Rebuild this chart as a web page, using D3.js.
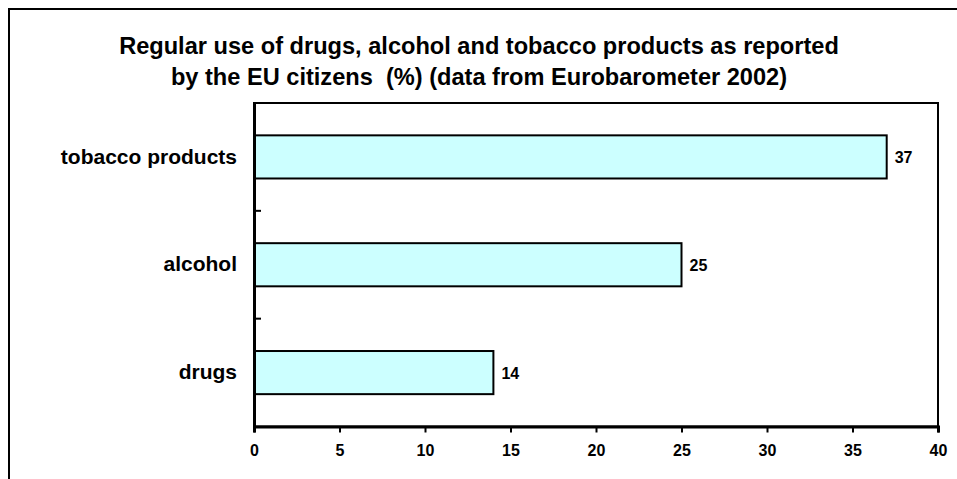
<!DOCTYPE html>
<html><head><meta charset="utf-8">
<script src="https://cdn.jsdelivr.net/npm/d3@7"></script>
<style>body{margin:0;background:#fff;} svg{display:block;}</style>
</head><body>
<svg id="c" width="957" height="479"></svg>
<script>
const categories = ["tobacco products", "alcohol", "drugs"];
const values = [37, 25, 14];
const xTicks = [0, 5, 10, 15, 20, 25, 30, 35, 40];
const titleLines = ["Regular use of drugs, alcohol and tobacco products as reported",
                    "by the EU citizens  (%) (data from Eurobarometer 2002)"];

const svg = d3.select("#c");
const font = "Liberation Sans, Arial, sans-serif";
svg.append("rect").attr("x", 9).attr("y", 9).attr("width", 957).attr("height", 479)
  .attr("fill", "#fff").attr("stroke", "#000").attr("stroke-width", 2);

const L = 254, R = 938, T = 103, B = 426.5;
const x = d3.scaleLinear().domain([0, 40]).range([L, R]);
const y = d3.scaleBand().domain(categories).range([T, B]).paddingInner(0.6).paddingOuter(0.3);

svg.append("g").selectAll("text").data(titleLines).join("text")
  .attr("x", 479).attr("y", (d, i) => 54 + i * 31)
  .attr("text-anchor", "middle").attr("font-family", font).attr("font-weight", "bold")
  .attr("font-size", 23.6).style("white-space", "pre").text(d => d);

// plot frame
svg.append("rect").attr("x", L).attr("y", T).attr("width", R - L).attr("height", B - T)
  .attr("fill", "none").attr("stroke", "#000").attr("stroke-width", 2);

// bars
svg.append("g").selectAll("rect").data(values).join("rect")
  .attr("x", x(0)).attr("y", (d, i) => y(categories[i]))
  .attr("width", d => x(d) - x(0)).attr("height", y.bandwidth())
  .attr("fill", "#CCFFFF").attr("stroke", "#000").attr("stroke-width", 2);

// value labels
svg.append("g").selectAll("text").data(values).join("text")
  .attr("x", d => x(d) + 8).attr("y", (d, i) => y(categories[i]) + y.bandwidth() / 2 + 6)
  .attr("font-family", font).attr("font-weight", "bold").attr("font-size", 16)
  .text(d => d);

// x axis
const xa = svg.append("g").attr("transform", `translate(0,${B})`)
  .call(d3.axisBottom(x).tickValues(xTicks).tickSize(6).tickPadding(12));
xa.select(".domain").attr("stroke-width", 3);
xa.selectAll(".tick line").attr("stroke-width", 2);
xa.selectAll("text").attr("font-family", font).attr("font-weight", "bold").attr("font-size", 16).attr("fill", "#000");

// y axis
const step = (B - T) / categories.length;
const ya = svg.append("g").attr("transform", `translate(${L},0)`)
  .call(d3.axisLeft(y).tickSize(0).tickPadding(17));
ya.select(".domain").attr("stroke-width", 3);
ya.selectAll("text").attr("font-family", font).attr("font-weight", "bold").attr("font-size", 21).attr("fill", "#000");
// inner dividers between categories
svg.append("g").selectAll("line").data(categories.slice(1)).join("line")
  .attr("x1", L).attr("x2", L + 7)
  .attr("y1", (d, i) => T + step * (i + 1)).attr("y2", (d, i) => T + step * (i + 1))
  .attr("stroke", "#000").attr("stroke-width", 2);
</script>
</body></html>
